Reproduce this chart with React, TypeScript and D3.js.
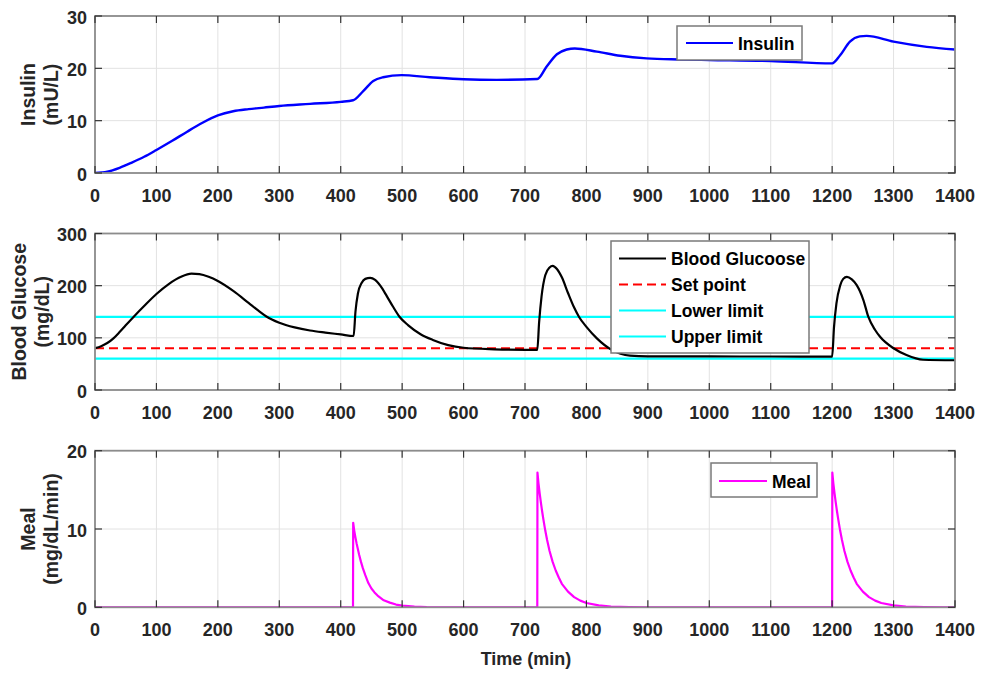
import React from "react";
import * as d3 from "d3";

// ---------- data ----------
const timeTicks = [0, 100, 200, 300, 400, 500, 600, 700, 800, 900, 1000, 1100, 1200, 1300, 1400];

const insulinTicks = [0, 10, 20, 30];
const insulinTime = [0, 20, 40, 60, 80, 100, 125, 150, 175, 200, 225, 250, 275, 300, 350, 400, 420, 437, 453, 469, 499, 545, 600, 654, 720, 735, 752, 768, 781, 817, 855, 898, 950, 1000, 1100, 1200, 1213, 1229, 1245, 1256, 1300, 1354, 1400];
const insulinValue = [0, 0.25, 1.0, 2.0, 3.1, 4.4, 6.1, 7.9, 9.6, 11.0, 11.8, 12.2, 12.5, 12.8, 13.2, 13.6, 13.9, 15.7, 17.6, 18.3, 18.7, 18.3, 17.9, 17.8, 17.95, 20.3, 22.7, 23.6, 23.8, 23.2, 22.4, 21.9, 21.7, 21.6, 21.4, 20.95, 22.5, 25.1, 26.1, 26.2, 25.1, 24.1, 23.6];

const glucoseTicks = [0, 100, 200, 300];
const glucoseTime = [0, 10, 20, 30, 40, 50, 65, 80, 100, 120, 140, 157, 170, 185, 200, 225, 250, 265, 279, 300, 325, 350, 375, 400, 421,
  424, 428, 434, 440, 448, 456, 465, 475, 485, 496, 510, 530, 550, 575, 600, 650, 700, 720,
  723, 727, 733, 740, 745, 752, 760, 770, 780, 788, 800, 817, 841, 871, 900, 1000, 1100, 1200,
  1203, 1207, 1213, 1218, 1224, 1232, 1240, 1251, 1259, 1270, 1278, 1300, 1321, 1348, 1400];
const glucoseValue = [80, 84, 90, 99, 111, 124, 143, 161, 184, 203, 217, 223, 222, 217, 209, 190, 167, 153, 141, 129, 120, 114, 110, 106.5, 103.5,
  150, 185, 205, 213, 215, 211, 199, 180, 160, 140, 124, 107, 96, 86, 81, 78, 77, 77,
  130, 180, 220, 235, 238, 232, 216, 186, 158, 140, 121, 99, 77, 66, 64.5, 64.3, 64.2, 64,
  120, 166, 200, 213, 217, 212, 201, 172, 140, 115, 102, 80, 67, 58, 57];
const setPoint = 80;
const lowerLimit = 140;
const upperLimit = 60;

const mealTicks = [0, 10, 20];
const mealTime = [0, 420,
  420.3, 422, 424, 426, 428, 430, 433, 436, 440, 445, 450, 455, 460, 470, 480, 490, 500, 520, 540, 570,
  720,
  720.3, 722, 724, 726, 728, 730, 733, 736, 740, 745, 750, 755, 760, 770, 780, 790, 800, 820, 840, 870, 900,
  1200,
  1200.3, 1202, 1204, 1206, 1208, 1210, 1213, 1216, 1220, 1225, 1230, 1235, 1240, 1250, 1260, 1270, 1280, 1300, 1320, 1350, 1380, 1400];
const mealValue = [0, 0,
  10.8, 9.8, 8.9, 8.1, 7.4, 6.7, 5.8, 5.0, 4.1, 3.1, 2.4, 1.9, 1.5, 0.9, 0.6, 0.35, 0.22, 0.1, 0.03, 0,
  0,
  17.2, 15.8, 14.5, 13.3, 12.2, 11.2, 9.8, 8.6, 7.2, 5.8, 4.7, 3.8, 3.0, 2.0, 1.3, 0.85, 0.55, 0.25, 0.1, 0.03, 0,
  0,
  17.2, 15.8, 14.5, 13.3, 12.2, 11.2, 9.8, 8.6, 7.2, 5.8, 4.7, 3.8, 3.0, 2.0, 1.3, 0.85, 0.55, 0.25, 0.1, 0.03, 0, 0];

// ---------- layout ----------
const W = 981;
const H = 673;
const LEFT = 95;
const RIGHT = 955;
const FONT = "'Liberation Sans', Arial, Helvetica, sans-serif";

const x = d3.scaleLinear().domain([0, 1400]).range([LEFT, RIGHT]);

type Series = { t: number[]; v: number[]; color: string; width: number; dash?: string; curve?: d3.CurveFactory };

function Panel(props: {
  top: number;
  bottom: number;
  yMax: number;
  yTicks: number[];
  labels: string[];
  labelX: number[];
  series: Series[];
  id: string;
  children?: React.ReactNode;
}) {
  const { top, bottom, yMax, yTicks, labels, labelX, series, id } = props;
  const y = d3.scaleLinear().domain([0, yMax]).range([bottom, top]);
  const cy = (top + bottom) / 2;
  const tickLen = 7;
  return (
    <g>
      <defs>
        <clipPath id={id}>
          <rect x={LEFT} y={top} width={RIGHT - LEFT} height={bottom - top} />
        </clipPath>
      </defs>
      <rect x={LEFT} y={top} width={RIGHT - LEFT} height={bottom - top} fill="#fff" />
      {/* grid */}
      {timeTicks.map((t) => (
        <line key={"gx" + t} x1={x(t)} x2={x(t)} y1={top} y2={bottom} stroke="#e2e2e2" strokeWidth={1} />
      ))}
      {yTicks.map((v) => (
        <line key={"gy" + v} x1={LEFT} x2={RIGHT} y1={y(v)} y2={y(v)} stroke="#e2e2e2" strokeWidth={1} />
      ))}
      {/* data */}
      <g clipPath={`url(#${id})`}>
        {series.map((s, i) => {
          const pts: [number, number][] = s.t.map((t, k) => [t, s.v[k]]);
          const gen = d3
            .line<[number, number]>()
            .x((d) => x(d[0]))
            .y((d) => y(d[1]))
            .curve(s.curve || d3.curveMonotoneX);
          return (
            <path
              key={i}
              d={gen(pts) || ""}
              fill="none"
              stroke={s.color}
              strokeWidth={s.width}
              strokeDasharray={s.dash}
              strokeLinejoin="round"
            />
          );
        })}
      </g>
      {/* box */}
      <rect x={LEFT} y={top} width={RIGHT - LEFT} height={bottom - top} fill="none" stroke="#8c8c8c" strokeWidth={1.8} />
      {/* ticks */}
      {timeTicks.map((t) => (
        <g key={"tx" + t}>
          <line x1={x(t)} x2={x(t)} y1={bottom} y2={bottom - tickLen} stroke="#333" strokeWidth={1.2} />
          <line x1={x(t)} x2={x(t)} y1={top} y2={top + tickLen} stroke="#333" strokeWidth={1.2} />
          <text
            x={x(t)}
            y={bottom + 29}
            textAnchor="middle"
            fontFamily={FONT}
            fontWeight="bold"
            fontSize={18}
            fill="#262626"
          >
            {t}
          </text>
        </g>
      ))}
      {yTicks.map((v) => (
        <g key={"ty" + v}>
          <line x1={LEFT} x2={LEFT + tickLen} y1={y(v)} y2={y(v)} stroke="#333" strokeWidth={1.2} />
          <line x1={RIGHT} x2={RIGHT - tickLen} y1={y(v)} y2={y(v)} stroke="#333" strokeWidth={1.2} />
          <text
            x={87}
            y={y(v) + 7.5}
            textAnchor="end"
            fontFamily={FONT}
            fontWeight="bold"
            fontSize={18}
            fill="#262626"
          >
            {v}
          </text>
        </g>
      ))}
      {/* y label */}
      {labels.map((l, i) => (
        <text
          key={"yl" + i}
          transform={`translate(${labelX[i] + 6.5},${cy}) rotate(-90)`}
          textAnchor="middle"
          fontFamily={FONT}
          fontWeight="bold"
          fontSize={19.5}
          fill="#262626"
        >
          {l}
        </text>
      ))}
      {props.children}
    </g>
  );
}

function Legend(props: {
  x0: number;
  y0: number;
  w: number;
  h: number;
  items: { label: string; color: string; dash?: string; cy: number }[];
  lineX1: number;
  lineX2: number;
  textX: number;
}) {
  const { x0, y0, w, h, items, lineX1, lineX2, textX } = props;
  return (
    <g>
      <rect x={x0} y={y0} width={w} height={h} fill="#fff" stroke="#7a7a7a" strokeWidth={1.5} />
      {items.map((it, i) => (
        <g key={i}>
          <line x1={lineX1} x2={lineX2} y1={it.cy} y2={it.cy} stroke={it.color} strokeWidth={2.2} strokeDasharray={it.dash} />
          <text x={textX} y={it.cy + 6.5} fontFamily={FONT} fontWeight="bold" fontSize={17.5} fill="#000">
            {it.label}
          </text>
        </g>
      ))}
    </g>
  );
}

export default function App() {
  const flat = (v: number) => ({ t: [0, 1400], v: [v, v] });
  return (
    <svg
      width={W}
      height={H}
      viewBox={`0 0 ${W} ${H}`}
      style={{ position: "absolute", left: 0, top: 0, background: "#fff" }}
    >
      <rect x={0} y={0} width={W} height={H} fill="#fff" />
      <Panel
        id="c1"
        top={16}
        bottom={173}
        yMax={30}
        yTicks={insulinTicks}
        labels={["Insulin", "(mU/L)"]}
        labelX={[28.3, 51.7]}
        series={[{ t: insulinTime, v: insulinValue, color: "#0000ff", width: 2.4 }]}
      >
        <Legend
          x0={677}
          y0={26}
          w={125}
          h={34}
          lineX1={686}
          lineX2={733}
          textX={738}
          items={[{ label: "Insulin", color: "#0000ff", cy: 43 }]}
        />
      </Panel>
      <Panel
        id="c2"
        top={233.5}
        bottom={390}
        yMax={300}
        yTicks={glucoseTicks}
        labels={["Blood Glucose", "(mg/dL)"]}
        labelX={[19, 42.5]}
        series={[
          { ...flat(lowerLimit), color: "#00ffff", width: 2.2, curve: d3.curveLinear },
          { ...flat(upperLimit), color: "#00ffff", width: 2.2, curve: d3.curveLinear },
          { ...flat(setPoint), color: "#ff0000", width: 2.2, dash: "9 5", curve: d3.curveLinear },
          { t: glucoseTime, v: glucoseValue, color: "#000000", width: 2.2 },
        ]}
      >
        <Legend
          x0={611}
          y0={241}
          w={198}
          h={112}
          lineX1={619}
          lineX2={666}
          textX={671}
          items={[
            { label: "Blood Glucoose", color: "#000000", cy: 258.5 },
            { label: "Set point", color: "#ff0000", dash: "9 5", cy: 284.5 },
            { label: "Lower limit", color: "#00ffff", cy: 310.5 },
            { label: "Upper limit", color: "#00ffff", cy: 336.5 },
          ]}
        />
      </Panel>
      <Panel
        id="c3"
        top={450.7}
        bottom={607.3}
        yMax={20}
        yTicks={mealTicks}
        labels={["Meal", "(mg/dL/min)"]}
        labelX={[28.3, 51.7]}
        series={[{ t: mealTime, v: mealValue, color: "#ff00ff", width: 2.2, curve: d3.curveLinear }]}
      >
        <Legend
          x0={711}
          y0={463}
          w={106}
          h={34}
          lineX1={719}
          lineX2={767}
          textX={772}
          items={[{ label: "Meal", color: "#ff00ff", cy: 481 }]}
        />
      </Panel>
      <text
        x={(LEFT + RIGHT) / 2 + 1}
        y={665}
        textAnchor="middle"
        fontFamily={FONT}
        fontWeight="bold"
        fontSize={18}
        fill="#262626"
      >
        Time (min)
      </text>
    </svg>
  );
}
